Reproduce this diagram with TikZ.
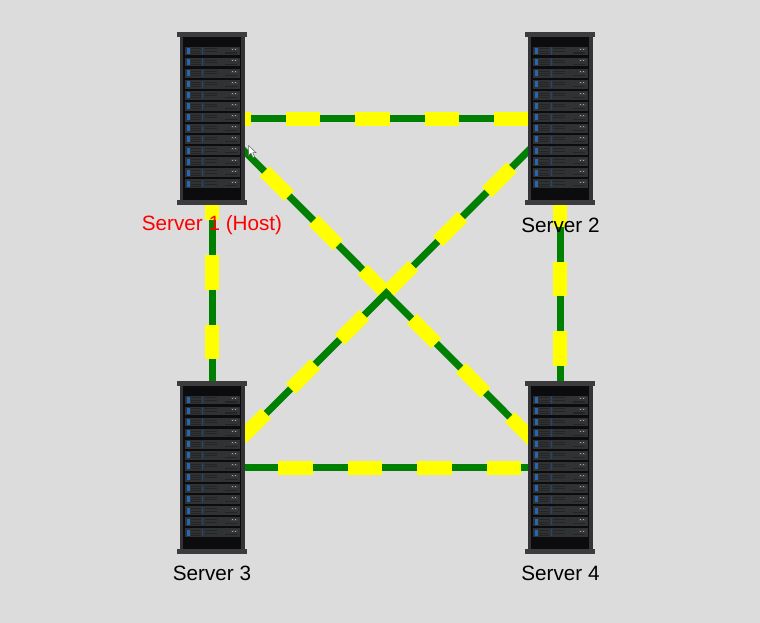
\documentclass[tikz,border=0pt]{standalone}
\usepackage{fontspec}
\setmainfont{Liberation Sans}
\definecolor{bgc}{HTML}{DCDCDC}
\definecolor{linkg}{HTML}{008000}
\definecolor{linky}{HTML}{FFFF00}
\definecolor{rackcap}{HTML}{3C3C3E}
\definecolor{rackside}{HTML}{343436}
\definecolor{rackin}{HTML}{0C0C0E}
\definecolor{unitc}{HTML}{303234}
\definecolor{unitd}{HTML}{232527}
\definecolor{unitb}{HTML}{2468B4}
\tikzset{
  x=1pt,y=-1pt,
  rackbody/.style={draw=none,fill=rackside,minimum width=65pt,minimum height=166pt,inner sep=0pt,outer sep=0pt},
  srvlabel/.style={font=\fontsize{20.7}{23}\selectfont,text=black,inner sep=0pt},
  hostlabel/.style={srvlabel,text=red},
  linkbase/.style={draw=linkg,line width=7pt},
  linkdash/.style={draw=linky,line width=14pt,dash pattern=on 34.7pt off 34.8pt},
}
\newcommand{\rackdetail}[2]{%
  \begin{scope}[shift={(#1)}]
    \fill[rackcap] (-35,-86.7) rectangle (35,-81.5);
    \fill[rackcap] (-35,81.7) rectangle (35,86.7);
    \fill[rackin] (-29,-81.5) rectangle (29,81.7);
    \foreach \k in {0,...,12}{
      \begin{scope}[shift={(0,{-67.7+11.06*\k})}]
        \fill[unitc] (-27,-4.4) rectangle (28,4.4);
        \fill[unitb] (-25.5,-3) rectangle (-22.5,3);
        \fill[unitd] (-21,-2.5) rectangle (-11,-1.5);
        \fill[unitd] (-21,0) rectangle (-11,1);
        \fill[unitd] (-21,2) rectangle (-11,3);
        \fill[unitb!70!black] (-9.8,-3.6) rectangle (-9,3.6);
        \fill[unitd] (-7,-2.5) rectangle (5,-1.5);
        \fill[unitd] (-7,0) rectangle (5,1);
        \fill[black!75] (19,-2.6) rectangle (26,-0.6);
        \fill[gray!70] (20,-2.1) rectangle (21,-1.1);
        \fill[gray!70] (23,-2.1) rectangle (24,-1.1);
        \fill[unitd] (13,1.5) rectangle (25,2.7);
      \end{scope}
    }
  \end{scope}}
\begin{document}
\begin{tikzpicture}
\useasboundingbox[fill=bgc] (0,0) rectangle (760,623);
\coordinate (c1) at (212,118.7);
\coordinate (c2) at (560.3,118.7);
\coordinate (c3) at (212,467.6);
\coordinate (c4) at (560.3,467.6);
\foreach \a/\b/\ph in {c1/c2/-4,c1/c3/2.5,c2/c4/-4,c1/c4/-4.8,c2/c3/0.5,c3/c4/3.5}{
  \draw[linkbase] (\a) -- (\b);
  \draw[linkdash,dash phase=\ph pt] (\a) -- (\b);
}
\node[rackbody] (s1) at (c1) {};
\node[rackbody] (s2) at (c2) {};
\node[rackbody] (s3) at (c3) {};
\node[rackbody] (s4) at (c4) {};
\rackdetail{c1}{}
\rackdetail{c2}{}
\rackdetail{c3}{}
\rackdetail{c4}{}
\node[hostlabel] (l1) at (212,225) {Server 1 (Host)};
\node[srvlabel] (l2) at (560.5,225) {Server 2};
\node[srvlabel] (l3) at (212,573) {Server 3};
\node[srvlabel] (l4) at (560.5,573) {Server 4};
\fill[white,draw=black!60,line width=0.5pt] (248.5,145.5) -- (248.5,155.5) -- (251,153.2) -- (253,157.6) -- (254.6,156.8) -- (252.8,152.6) -- (256,152.6) -- cycle;
\end{tikzpicture}
\end{document}
